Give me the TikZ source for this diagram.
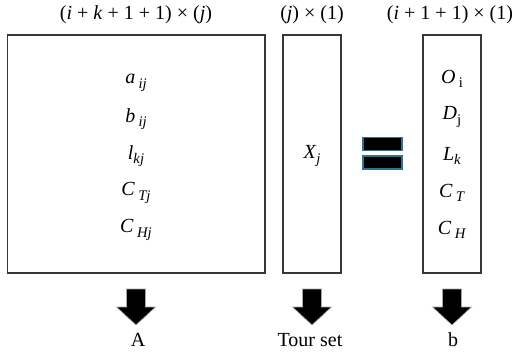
\documentclass[tikz,border=0pt]{standalone}
\usepackage{fontspec}
\setmainfont{Liberation Serif}
\usetikzlibrary{calc}
\definecolor{boxline}{RGB}{55,55,55}
\definecolor{eqline}{RGB}{45,115,150}
\newcommand{\sbi}[1]{\raisebox{-0.5ex}{\fontsize{11}{11}\selectfont\textit{#1}}}
\newcommand{\sbu}[1]{\raisebox{-0.5ex}{\fontsize{11}{11}\selectfont #1}}
\begin{document}
\begin{tikzpicture}[x=0.75pt,y=-0.75pt,
  mbox/.style={draw=boxline,line width=0.9pt,minimum height=178.5pt,inner sep=0pt},
  lbl/.style={font=\fontsize{15}{17}\selectfont,inner sep=0pt},
  ent/.style={font=\fontsize{15}{17}\selectfont,inner sep=0pt},
  eqbar/.style={fill=black,draw=eqline,line width=1pt},
  blockarrow/.style={fill=black,draw=gray!70,line width=0.5pt}]
\useasboundingbox (0,0) rectangle (517,353);
% boxes
\node[mbox,minimum width=193.1pt] (A) at (136.25,154) {};
\node[mbox,minimum width=43.5pt] (X) at (312,154) {};
\node[mbox,minimum width=43.5pt] (B) at (452,154) {};
% header labels
\node[lbl] (hA) at (136,15) {(\textit{i} + \textit{k} + 1 + 1) × (\textit{j})};
\node[lbl] (hX) at (312,15) {(\textit{j}) × (1)};
\node[lbl] (hB) at (450,15) {(\textit{i} + 1 + 1) × (1)};
% left entries
\node[ent] (a) at (136,83) {\textit{a}\,\sbi{ij}};
\node[ent] (b) at (136,119) {\textit{b}\,\sbi{ij}};
\node[ent] (l) at (136,156) {\textit{l}\sbi{kj}};
\node[ent] (ct) at (136,193) {\textit{C}\,\sbi{Tj}};
\node[ent] (ch) at (136,230) {\textit{C}\,\sbi{Hj}};
% middle entry
\node[ent] (xj) at (312,156) {\textit{X}\sbi{j}};
% right entries
\node[ent] (o) at (452,79) {\textit{O}\,\sbu{i}};
\node[ent] (d) at (452,117) {\textit{D}\sbu{j}};
\node[ent] (lk) at (452,156) {\textit{L}\sbi{k}};
\node[ent] (cT) at (452,193) {\textit{C}\,\sbi{T}};
\node[ent] (cH) at (452,230) {\textit{C}\,\sbi{H}};
% equals sign
\draw[eqbar] (363,137.5) rectangle (402,150.5);
\draw[eqbar] (363,156) rectangle (402,169);
% block arrows
\foreach \c/\n in {136/aA,312/aX,452/aB}{
  \coordinate (\n) at (\c,289);
  \draw[blockarrow] ($(\n)+(-9.5,0)$) -- ($(\n)+(9.5,0)$) -- ($(\n)+(9.5,18)$)
    -- ($(\n)+(19.5,18)$) -- ($(\n)+(0,36)$) -- ($(\n)+(-19.5,18)$)
    -- ($(\n)+(-9.5,18)$) -- cycle;
}
% bottom labels
\node[lbl] (tA) at (138,340) {A};
\node[lbl] (tX) at (310,340) {Tour set};
\node[lbl] (tB) at (453,340) {b};
\end{tikzpicture}
\end{document}
